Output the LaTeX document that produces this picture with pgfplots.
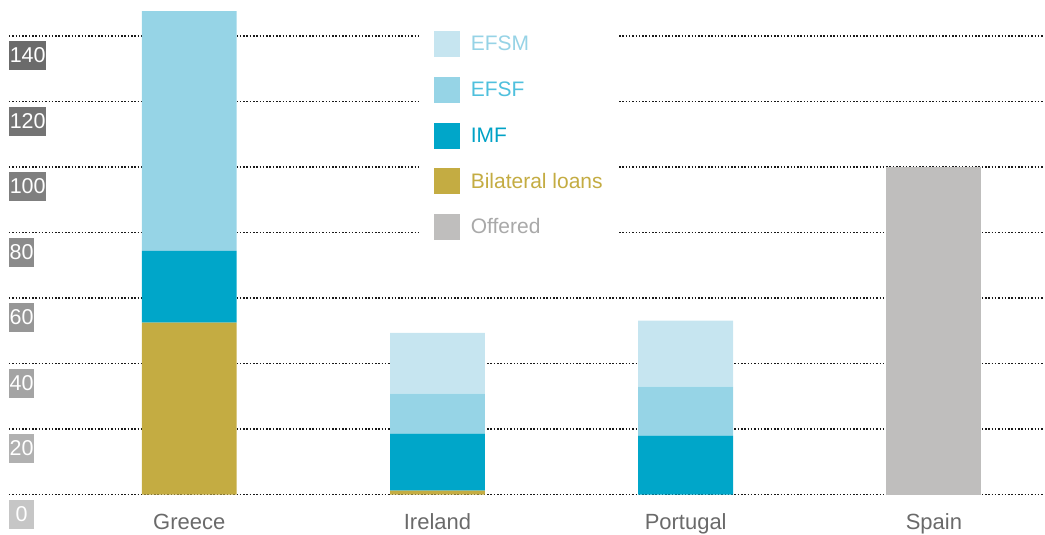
\documentclass[border=0pt]{standalone}
\usepackage{pgfplots}
\pgfplotsset{compat=1.18}
\usepackage{pgfplotstable}
\usepackage{fontspec}
\setmainfont{Liberation Sans}
\definecolor{efsm}{HTML}{C6E5F0}
\definecolor{efsf}{HTML}{96D4E6}
\definecolor{imf}{HTML}{00A6C9}
\definecolor{bil}{HTML}{C4AC42}
\definecolor{off}{HTML}{BFBEBD}
\definecolor{efsmT}{HTML}{96D3E6}
\definecolor{efsfT}{HTML}{4FC0DD}
\definecolor{imfT}{HTML}{00A2C6}
\definecolor{bilT}{HTML}{C4AC42}
\definecolor{offT}{HTML}{A9A9A9}
\definecolor{cat}{HTML}{6A6A6A}
\definecolor{t0}{HTML}{C6C6C6}
\definecolor{t1}{HTML}{B1B1B1}
\definecolor{t2}{HTML}{A4A4A4}
\definecolor{t3}{HTML}{979797}
\definecolor{t4}{HTML}{8B8B8B}
\definecolor{t5}{HTML}{7F7F7F}
\definecolor{t6}{HTML}{747474}
\definecolor{t7}{HTML}{6B6B6B}
\setlength{\fboxsep}{1.5pt}
\newcommand{\tb}[3]{\colorbox{#1}{\makebox[#2][c]{\rule[-6pt]{0pt}{26pt}\textcolor{white}{#3}}}}
\pgfplotsset{sq/.style={legend image code/.code={\fill[##1] (0pt,-13pt) rectangle (26pt,13pt);}}}
\pgfplotstableread{
x Offered Bil IMF EFSF EFSM
0 0   52.5 21.9 73.2 0
1 0   1.2  17.4 12.2 18.6
2 0   0    18.0 15.0 20.1
3 100 0    0    0    0
}\data
\begin{document}
\begin{tikzpicture}
\begin{axis}[
  scale only axis, width=1036pt, height=495pt,
  xmin=-0.7263, xmax=3.4444, ymin=0, ymax=151,
  ybar stacked, bar width=95pt,
  xtick={0,1,2,3}, xticklabels={Greece,Ireland,Portugal,Spain},
  ytick={0,20,...,140},
  yticklabels={\tb{t0}{22pt}{0},\tb{t1}{22pt}{20},\tb{t2}{22pt}{40},\tb{t3}{22pt}{60},\tb{t4}{22pt}{80},\tb{t5}{34pt}{100},\tb{t6}{34pt}{120},\tb{t7}{34pt}{140}},
  axis line style={draw=none}, major tick length=0pt, tick style={draw=none},
  ymajorgrids, major grid style={black!90, line width=1.6pt, dash pattern=on 1.5pt off 1.8pt},
  xticklabel style={anchor=base, inner sep=0pt, yshift=-35pt, font=\fontsize{22}{26}\selectfont, text=cat},
  yticklabel style={anchor=north west, inner sep=0pt, yshift=-5pt, font=\fontsize{21.5}{25}\selectfont},
  reverse legend,
  legend style={at={(axis description cs:0.3967,0.9657)}, anchor=north west, fill=white, draw=none,
    inner sep=14pt, row sep=19.75pt, column sep=11pt, font=\fontsize{21}{25}\selectfont,
    nodes={inner sep=0pt, minimum height=26pt}},
  legend cell align=left,
]
\addplot[sq, fill=off, draw=none] table[x=x, y=Offered] {\data};
\addlegendentry{\textcolor{offT}{Offered}}
\addplot[sq, fill=bil, draw=none] table[x=x, y=Bil] {\data};
\addlegendentry{\textcolor{bilT}{Bilateral loans}}
\addplot[sq, fill=imf, draw=none] table[x=x, y=IMF] {\data};
\addlegendentry{\textcolor{imfT}{IMF}}
\addplot[sq, fill=efsf, draw=none] table[x=x, y=EFSF] {\data};
\addlegendentry{\textcolor{efsfT}{EFSF}}
\addplot[sq, fill=efsm, draw=none] table[x=x, y=EFSM] {\data};
\addlegendentry{\textcolor{efsmT}{EFSM}}
\end{axis}
\path (current axis.south west) ++(-9pt,0pt);
\end{tikzpicture}
\end{document}
